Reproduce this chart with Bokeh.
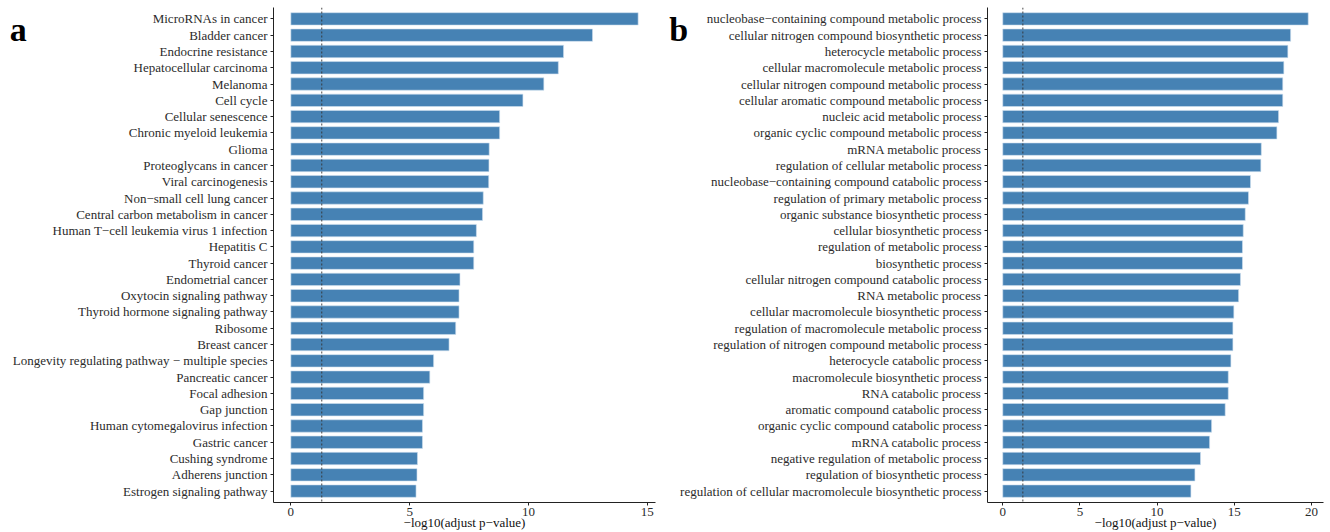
import numpy as np
from bokeh.plotting import figure
from bokeh.layouts import row
from bokeh.models import FactorRange, Range1d, Span, FixedTicker
from bokeh.embed import file_html
from bokeh.resources import INLINE

# KEGG pathway enrichment, -log10(adjusted p)
kegg_terms = [
    "MicroRNAs in cancer", "Bladder cancer", "Endocrine resistance",
    "Hepatocellular carcinoma", "Melanoma", "Cell cycle", "Cellular senescence",
    "Chronic myeloid leukemia", "Glioma", "Proteoglycans in cancer",
    "Viral carcinogenesis", "Non\u2212small cell lung cancer",
    "Central carbon metabolism in cancer", "Human T\u2212cell leukemia virus 1 infection",
    "Hepatitis C", "Thyroid cancer", "Endometrial cancer", "Oxytocin signaling pathway",
    "Thyroid hormone signaling pathway", "Ribosome", "Breast cancer",
    "Longevity regulating pathway \u2212 multiple species", "Pancreatic cancer",
    "Focal adhesion", "Gap junction", "Human cytomegalovirus infection",
    "Gastric cancer", "Cushing syndrome", "Adherens junction",
    "Estrogen signaling pathway",
]
kegg_scores = [
    14.62, 12.70, 11.48, 11.26, 10.65, 9.77, 8.79, 8.79, 8.35, 8.34,
    8.33, 8.10, 8.07, 7.81, 7.70, 7.70, 7.12, 7.08, 7.08, 6.94,
    6.66, 6.01, 5.85, 5.59, 5.59, 5.54, 5.54, 5.33, 5.31, 5.27,
]
kegg_ticks = [0, 5, 10, 15]

# GO biological process enrichment, -log10(adjusted p)
go_terms = [
    "nucleobase\u2212containing compound metabolic process",
    "cellular nitrogen compound biosynthetic process",
    "heterocycle metabolic process",
    "cellular macromolecule metabolic process",
    "cellular nitrogen compound metabolic process",
    "cellular aromatic compound metabolic process",
    "nucleic acid metabolic process",
    "organic cyclic compound metabolic process",
    "mRNA metabolic process",
    "regulation of cellular metabolic process",
    "nucleobase\u2212containing compound catabolic process",
    "regulation of primary metabolic process",
    "organic substance biosynthetic process",
    "cellular biosynthetic process",
    "regulation of metabolic process",
    "biosynthetic process",
    "cellular nitrogen compound catabolic process",
    "RNA metabolic process",
    "cellular macromolecule biosynthetic process",
    "regulation of macromolecule metabolic process",
    "regulation of nitrogen compound metabolic process",
    "heterocycle catabolic process",
    "macromolecule biosynthetic process",
    "RNA catabolic process",
    "aromatic compound catabolic process",
    "organic cyclic compound catabolic process",
    "mRNA catabolic process",
    "negative regulation of metabolic process",
    "regulation of biosynthetic process",
    "regulation of cellular macromolecule biosynthetic process",
]
go_scores = [
    19.79, 18.65, 18.47, 18.21, 18.14, 18.14, 17.87, 17.76, 16.75, 16.72,
    16.05, 15.92, 15.71, 15.58, 15.53, 15.53, 15.40, 15.28, 14.97, 14.91,
    14.91, 14.78, 14.61, 14.61, 14.41, 13.53, 13.40, 12.81, 12.45, 12.19,
]
go_ticks = [0, 5, 10, 15, 20]

P_CUTOFF = 0.05
SERIF = "Liberation Serif"
BAR_COLOR = "#4682B4"


def enrichment_panel(terms, scores, ticks, letter, letter_standoff,
                     border_left, border_right):
    top = max(scores)
    pad = 0.05 * top
    p = figure(
        width=665, height=532,
        y_range=FactorRange(factors=list(reversed(terms)),
                            range_padding=0.2, range_padding_units="absolute"),
        x_range=Range1d(-pad, top + pad),
        output_backend="svg", toolbar_location=None,
        min_border_left=border_left, min_border_right=border_right,
        min_border_top=7, min_border_bottom=30,
    )
    p.hbar(y=terms, left=0, right=scores, height=0.76,
           fill_color=BAR_COLOR, line_color="#cfdfee", line_width=0.6)

    p.add_layout(Span(location=-np.log10(P_CUTOFF), dimension="height",
                      line_color="#333333", line_width=0.9, line_dash="2 2"))

    p.xgrid.visible = False
    p.ygrid.visible = False
    p.outline_line_color = None
    p.background_fill_color = "white"
    p.border_fill_color = "white"

    for ax in (p.xaxis[0], p.yaxis[0]):
        ax.axis_line_color = "#222222"
        ax.axis_line_width = 1
        ax.major_tick_line_color = "#222222"
        ax.major_tick_in = 0
        ax.major_tick_out = 3
        ax.minor_tick_line_color = None
        ax.major_label_text_font = SERIF
        ax.major_label_text_font_size = "13px"
        ax.major_label_text_color = "#2b2b2b"
        ax.major_label_standoff = 3

    p.xaxis.ticker = FixedTicker(ticks=ticks)
    p.xaxis.major_label_standoff = 2
    p.xaxis.axis_label = "\u2212log10(adjust p\u2212value)"
    p.xaxis.axis_label_text_font = SERIF
    p.xaxis.axis_label_text_font_size = "13px"
    p.xaxis.axis_label_text_font_style = "normal"
    p.xaxis.axis_label_text_color = "#111111"
    p.xaxis.axis_label_standoff = -4

    # panel letter, set upright at the top end of the category axis;
    # the leading line break drops it one line below the frame's top edge
    p.yaxis.axis_label = "\n" + letter
    p.yaxis.axis_label_orientation = "horizontal"
    p.yaxis.axis_label_align = "end"
    p.yaxis.axis_label_standoff = letter_standoff
    p.yaxis.axis_label_text_font = SERIF
    p.yaxis.axis_label_text_font_size = "34px"
    p.yaxis.axis_label_text_font_style = "bold"
    p.yaxis.axis_label_text_color = "black"
    return p


left = enrichment_panel(kegg_terms, kegg_scores, kegg_ticks, "a", -17, 273, 10)
right = enrichment_panel(go_terms, go_scores, go_ticks, "b", -11, 322, 7)

layout = row(left, right, spacing=0)
open("out.html", "w").write(file_html(layout, INLINE))
